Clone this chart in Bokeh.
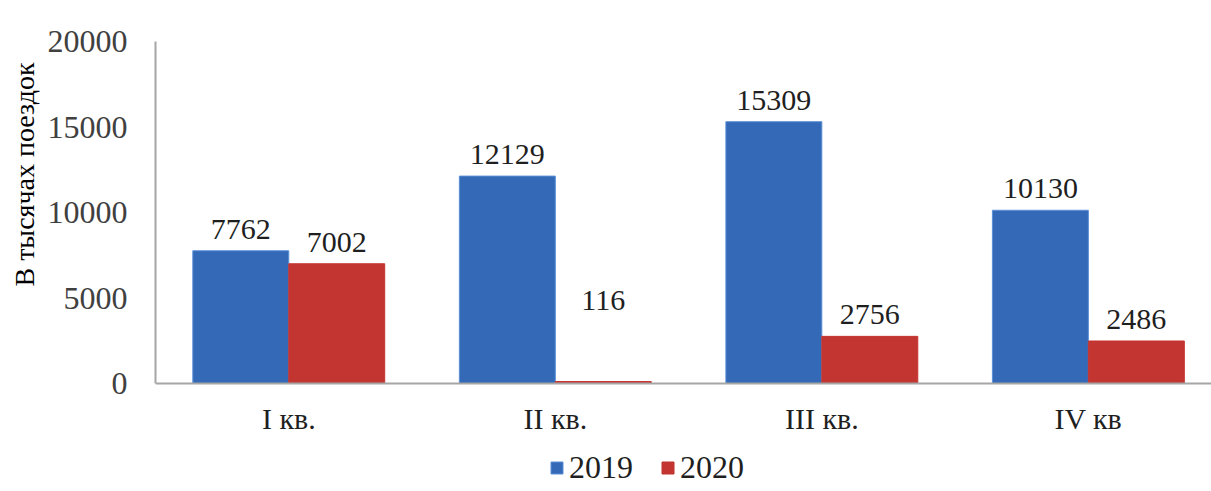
from bokeh.plotting import figure
from bokeh.models import (Range1d, FixedTicker, ColumnDataSource, Legend, LegendItem, Title, Span)
from bokeh.core.properties import value
from bokeh.embed import file_html
from bokeh.resources import INLINE

quarters = ["I кв.", "II кв.", "III кв.", "IV кв"]
years = ["2019", "2020"]
trips_2019 = [7762, 12129, 15309, 10130]
trips_2020 = [7002, 116, 2756, 2486]
y_ticks = [0, 5000, 10000, 15000, 20000]
y_label = "В тысячах поездок"

FONT = "Liberation Serif"
BLUE = "#3369b6"
RED = "#c33531"
AXIS = "#a6a6a6"
W = 0.36

# frame covers the area under the x axis too (room for category labels and legend)
Y_MAX = y_ticks[-1]
Y_MIN = -Y_MAX * 108 / 342

p = figure(width=1211, height=491, x_range=Range1d(0, 3.962), y_range=Range1d(Y_MIN, Y_MAX),
           output_backend="svg", toolbar_location=None,
           min_border_left=155, min_border_right=0, min_border_top=41, min_border_bottom=0)
p.outline_line_color = None
p.xgrid.visible = False
p.ygrid.visible = False
p.xaxis.visible = False

centers = [i + 0.5 for i in range(len(quarters))]
src = ColumnDataSource(dict(
    x19=[c - W / 2 for c in centers], x20=[c + W / 2 for c in centers],
    v19=trips_2019, v20=trips_2020,
    t19=[str(v) for v in trips_2019], t20=[str(v) for v in trips_2020],
    o19=[-12 for v in trips_2019],
    o20=[-12 if v > 1000 else -72 for v in trips_2020],
))

r19 = p.vbar(x="x19", top="v19", width=W, source=src, fill_color=BLUE, line_color="#5b8fd6", line_width=1)
r20 = p.vbar(x="x20", top="v20", width=W, source=src, fill_color=RED, line_color=RED, line_width=1)

# x axis line at zero
p.add_layout(Span(location=y_ticks[0], dimension="width", line_color=AXIS, line_width=2))

for xs, ts, os in (("x19", "t19", "o19"), ("x20", "t20", "o20")):
    p.text(x=xs, y=xs.replace("x", "v"), text=ts, y_offset=os, source=src,
           text_font=value(FONT), text_font_size="30px", text_color="#1f1f1f",
           text_align="center", text_baseline="bottom")

# category labels
p.text(x=centers, y=[y_ticks[0]] * len(centers), text=quarters, y_offset=18,
       text_font=value(FONT), text_font_size="30px", text_color="#1f1f1f",
       text_align="center", text_baseline="top")

ay = p.yaxis[0]
ay.ticker = FixedTicker(ticks=y_ticks)
ay.bounds = (y_ticks[0], y_ticks[-1])
ay.major_label_text_font = FONT
ay.major_label_text_font_size = "32px"
ay.major_label_text_color = "#404040"
ay.major_label_standoff = 22
ay.major_tick_line_color = None
ay.minor_tick_line_color = None
ay.axis_line_color = AXIS
ay.axis_line_width = 2

p.add_layout(Title(text=y_label, align="right", offset=21, text_font=FONT,
                   text_font_size="28px", text_font_style="normal", text_color="#000000"), "left")

legend = Legend(items=[LegendItem(label=years[0], renderers=[r19]),
                       LegendItem(label=years[1], renderers=[r20])],
                orientation="horizontal", location=(394, 5),
                label_text_font=FONT, label_text_font_size="32px", label_text_color="#1f1f1f",
                glyph_width=15, glyph_height=15, spacing=27, label_standoff=5,
                border_line_color=None, background_fill_alpha=0, padding=0, margin=0)
p.add_layout(legend)

open("out.html", "w").write(file_html(p, INLINE))
